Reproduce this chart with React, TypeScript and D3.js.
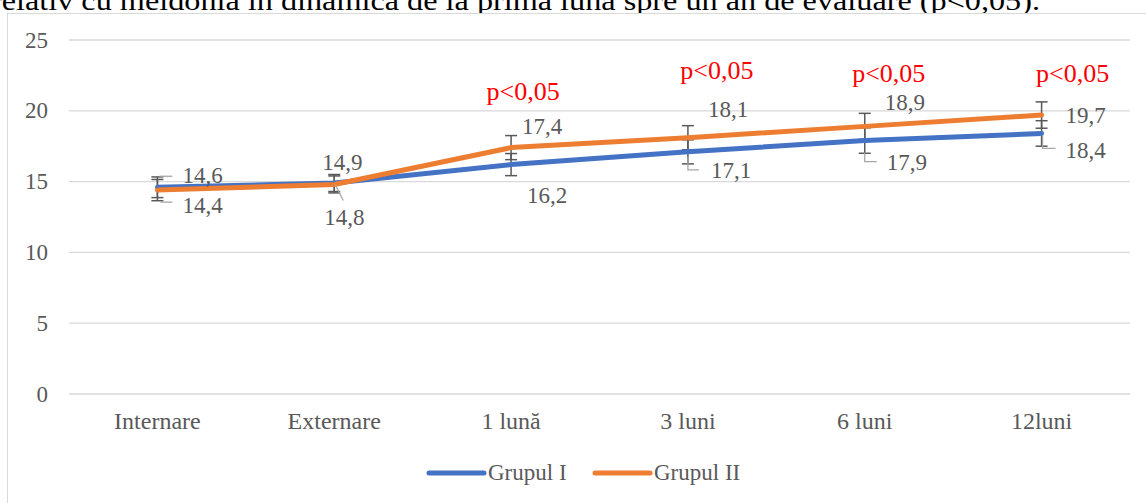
import React from "react";
import * as d3 from "d3";

const categories = ["Internare", "Externare", "1 lună", "3 luni", "6 luni", "12luni"];
const grupI = [14.6, 14.9, 16.2, 17.1, 17.9, 18.4];
const grupII = [14.4, 14.8, 17.4, 18.1, 18.9, 19.7];
const errI = [0.73, 0.6, 0.78, 0.85, 0.9, 0.9];
const errII = [0.75, 0.6, 0.85, 0.85, 0.92, 0.93];
const labelsI = ["14,6", "14,9", "16,2", "17,1", "17,9", "18,4"];
const labelsII = ["14,4", "14,8", "17,4", "18,1", "18,9", "19,7"];
const pLabels = ["", "", "p<0,05", "p<0,05", "p<0,05", "p<0,05"];
const yTicks = [0, 5, 10, 15, 20, 25];
const seriesNames = ["Grupul I", "Grupul II"];

const W = 1146;
const H = 503;
const FONT = "'Liberation Serif', 'Times New Roman', serif";
const GRAY = "#595959";
const BLUE = "#4472C4";
const ORANGE = "#ED7D31";

// label offsets relative to data point (layout)
const offI: [number, number][] = [[25, -4], [-12, -13], [16, 38], [23, 26], [22, 29.5], [24, 24.5]];
const offII: [number, number][] = [[25, 23], [-10, 41], [11, -13.6], [20, -20.7], [20, -16], [24, 8]];
// leader polylines relative to data point
const leadI: ([number, number][] | null)[] = [
  [[2, -11], [15, -11]],
  null,
  null,
  [[0, 5], [0, 18], [11, 18]],
  [[0, 12], [0, 21], [12, 21]],
  [[1, 2], [1, 15], [14, 15]],
];
const leadII: ([number, number][] | null)[] = [
  [[3, 12], [15, 12]],
  [[1, 0], [9, 16]],
  null,
  null,
  null,
  null,
];
const pOff: [number, number][] = [[0, 0], [0, 0], [12, -48], [29, -59], [24, -44], [31, -33]];

export default function App() {
  const x = d3.scalePoint<string>().domain(categories).range([69, 1130]).padding(0.5);
  const y = d3.scaleLinear().domain([0, 25]).range([394, 40]);
  const line = d3
    .line<number>()
    .x((_, i) => x(categories[i]) as number)
    .y((d) => y(d));

  const series = [
    { vals: grupI, err: errI, color: BLUE, labels: labelsI, off: offI, lead: leadI },
    { vals: grupII, err: errII, color: ORANGE, labels: labelsII, off: offII, lead: leadII },
  ];

  return (
    <svg
      width={W}
      height={H}
      style={{ position: "absolute", left: 0, top: 0, background: "#fff" }}
      fontFamily={FONT}
    >
      <text
        x={-9}
        y={10}
        fontSize={28}
        fill="#000"
        textLength={1049}
        lengthAdjust="spacingAndGlyphs"
      >
        relativ cu meldonia în dinamica de la prima lună spre un an de evaluare (p&lt;0,05).
      </text>
      <rect x={7.5} y={13.5} width={1150} height={500} fill="#fff" stroke="#d9d9d9" strokeWidth={1} />
      {yTicks.map((t) => (
        <g key={t}>
          <line x1={69} x2={1130} y1={y(t)} y2={y(t)} stroke="#d9d9d9" strokeWidth={1.3} />
          <text x={48} y={y(t) + 7.5} textAnchor="end" fontSize={23} fill={GRAY}>
            {t}
          </text>
        </g>
      ))}
      {categories.map((c) => (
        <text key={c} x={x(c)} y={429} textAnchor="middle" fontSize={24} fill={GRAY}>
          {c}
        </text>
      ))}
      {series.map((s, si) => (
        <g key={"e" + si}>
          {s.vals.map((v, i) => {
            const cx = x(categories[i]) as number;
            const t = y(v + s.err[i]);
            const b = y(v - s.err[i]);
            return (
              <g key={i} stroke={GRAY} strokeWidth={1.5}>
                <line x1={cx} x2={cx} y1={t} y2={b} />
                <line x1={cx - 6} x2={cx + 6} y1={t} y2={t} />
                <line x1={cx - 6} x2={cx + 6} y1={b} y2={b} />
              </g>
            );
          })}
        </g>
      ))}
      {series.map((s, si) => (
        <path
          key={"l" + si}
          d={line(s.vals) as string}
          fill="none"
          stroke={s.color}
          strokeWidth={5}
          strokeLinejoin="round"
          strokeLinecap="round"
        />
      ))}
      {series.map((s, si) => (
        <g key={"lab" + si}>
          {s.vals.map((v, i) => {
            const cx = x(categories[i]) as number;
            const cy = y(v);
            const ld = s.lead[i];
            return (
              <g key={i}>
                {ld && (
                  <polyline
                    points={ld.map(([a, b]) => `${cx + a},${cy + b}`).join(" ")}
                    fill="none"
                    stroke="#a6a6a6"
                    strokeWidth={1.3}
                  />
                )}
                <text x={cx + s.off[i][0]} y={cy + s.off[i][1]} fontSize={23} fill={GRAY}>
                  {s.labels[i]}
                </text>
              </g>
            );
          })}
        </g>
      ))}
      {pLabels.map((p, i) =>
        p ? (
          <text
            key={"p" + i}
            x={(x(categories[i]) as number) + pOff[i][0]}
            y={y(grupII[i]) + pOff[i][1]}
            textAnchor="middle"
            fontSize={26}
            fill="#FF0000"
          >
            {p}
          </text>
        ) : null
      )}
      {seriesNames.map((n, i) => {
        const lx = i === 0 ? 429 : 595;
        return (
          <g key={n}>
            <line
              x1={lx}
              x2={lx + 55}
              y1={473}
              y2={473}
              stroke={i === 0 ? BLUE : ORANGE}
              strokeWidth={5}
              strokeLinecap="round"
            />
            <text x={lx + 59} y={480} fontSize={23} fill={GRAY}>
              {n}
            </text>
          </g>
        );
      })}
    </svg>
  );
}
